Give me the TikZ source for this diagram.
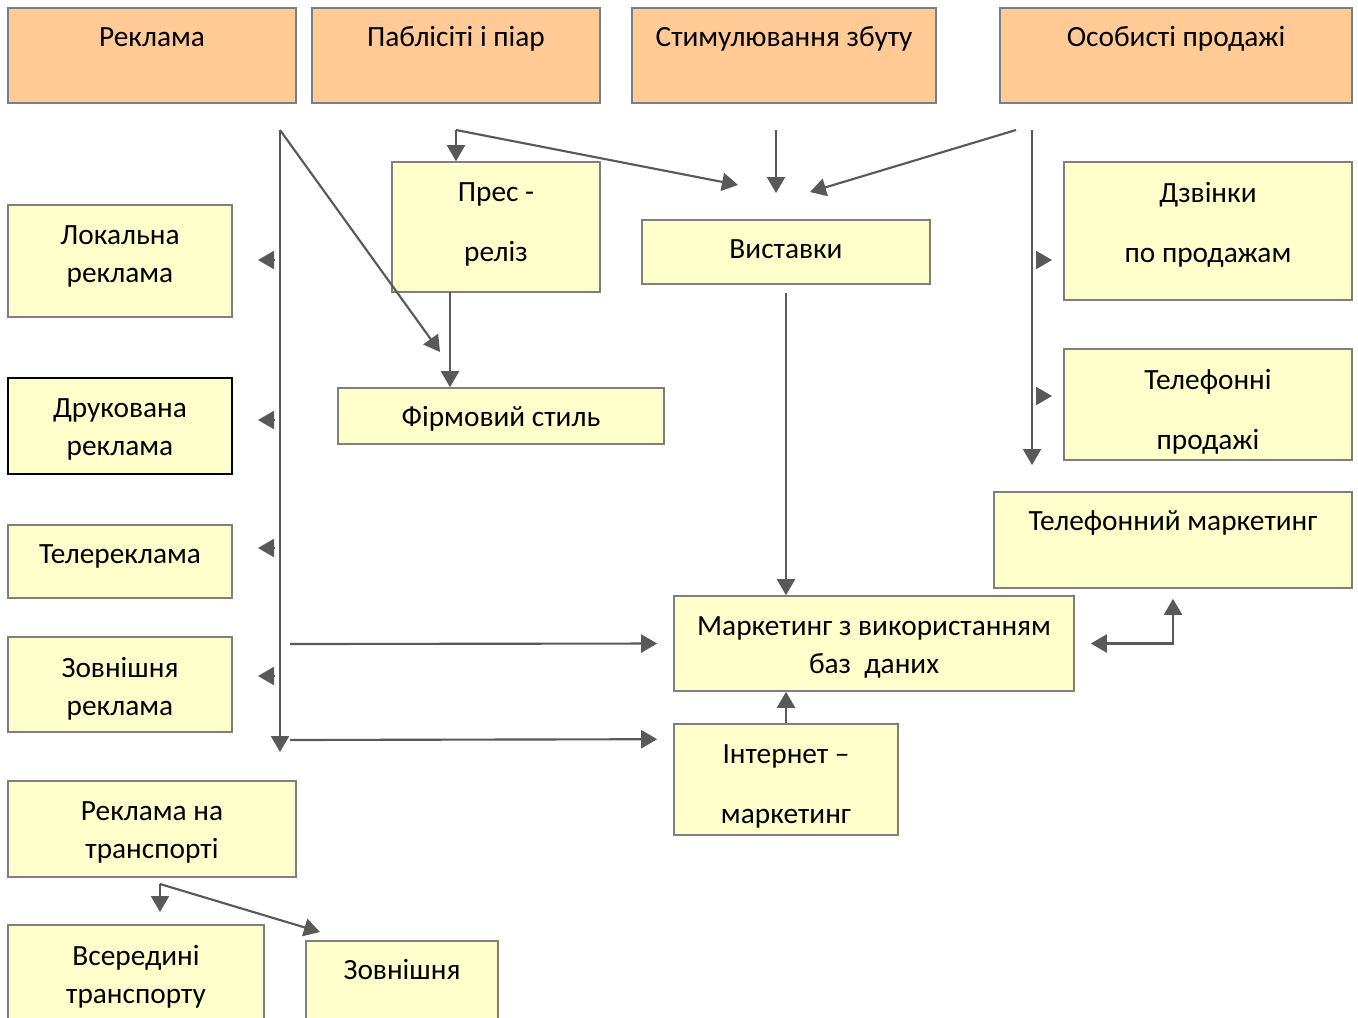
\documentclass[tikz,border=0pt]{standalone}
\usepackage{fontspec}
\setmainfont{Carlito}
\usetikzlibrary{arrows.meta,fit,calc}
\definecolor{peach}{HTML}{FFCA95}
\definecolor{pale}{HTML}{FFFFCC}
\definecolor{rim}{HTML}{7F7F7F}
\definecolor{ink}{HTML}{595959}
\tikzset{box/.style={draw=rim,line width=1.2pt,fill=#1,inner sep=0pt},box/.default=pale}
\tikzset{txt/.style={anchor=north,inner sep=0pt,align=center,
	font=\fontsize{22}{#1}\selectfont,execute at begin node={\rule{0pt}{22.5pt}}},txt/.default=28.5}
\tikzset{arr/.style={draw=ink,line width=1.6pt,-{Triangle[length=12pt,width=13.5pt]}}}
\tikzset{arrboth/.style={draw=ink,line width=1.6pt,{Triangle[length=12pt,width=13.5pt]}-{Triangle[length=12pt,width=13.5pt]}}}

\begin{document}
\begin{tikzpicture}[x=0.75pt,y=-0.75pt]
	\clip (0,0) rectangle (1358,1017);
	\fill[white] (0,0) rectangle (1358,1017);

	% Верхній ряд
	\node[box=peach, fit={(8,8) (296,103)}] (reklama) {};
	\node[box=peach, fit={(312,8) (600,103)}] (pablisyty) {};
	\node[box=peach, fit={(632,8) (936,103)}] (stymul) {};
	\node[box=peach, fit={(1000,8) (1352,103)}] (osobysti) {};
	\node[txt] (reklama-t) at ([yshift=-6.4pt]reklama.north) {Реклама};
	\node[txt] (pablisyty-t) at ([yshift=-6.4pt]pablisyty.north) {Паблісіті і піар};
	\node[txt] (stymul-t) at ([yshift=-6.4pt]stymul.north) {Стимулювання збуту};
	\node[txt] (osobysti-t) at ([yshift=-6.4pt]osobysti.north) {Особисті продажі};

	% Види реклами
	\node[box, fit={(8,205) (232,317)}] (lokalna) {};
	\node[box, draw=black, fit={(8,378) (232,474)}] (drukovana) {};
	\node[box, fit={(8,525) (232,598)}] (telerekl) {};
	\node[box, fit={(8,637) (232,732)}] (zovnishnia) {};
	\node[box, fit={(8,781) (296,877)}] (transport) {};
	\node[box, fit={(8,925) (264,1040)}] (vseredyni) {};
	\node[box, fit={(306,941) (498,1040)}] (zzovni) {};
	\node[txt] (lokalna-t) at ([yshift=-16pt]lokalna.north) {Локальна\\реклама};
	\node[txt] (drukovana-t) at ([yshift=-16pt]drukovana.north) {Друкована\\реклама};
	\node[txt] (telerekl-t) at ([yshift=-6.4pt]telerekl.north) {Телереклама};
	\node[txt] (zovnishnia-t) at ([yshift=-16pt]zovnishnia.north) {Зовнішня\\реклама};
	\node[txt] (transport-t) at ([yshift=-16pt]transport.north) {Реклама на\\транспорті};
	\node[txt] (vseredyni-t) at ([yshift=-16pt]vseredyni.north) {Всередині\\транспорту};
	\node[txt] (zzovni-t) at ([yshift=-6.4pt]zzovni.north) {Зовнішня};

	% Паблісіті та стимулювання
	\node[box, fit={(392,162) (600,292)}] (presliz) {};
	\node[box, fit={(338,388) (664,444)}] (firmovyi) {};
	\node[box, fit={(642,220) (930,284)}] (vystavky) {};
	\node[txt=45] (presliz-t) at ([yshift=-16pt]presliz.north) {Прес -\\реліз};
	\node[txt] (firmovyi-t) at ([yshift=-6.4pt]firmovyi.north) {Фірмовий стиль};
	\node[txt] (vystavky-t) at ([yshift=-6.4pt]vystavky.north) {Виставки};

	% Особисті продажі
	\node[box, fit={(1064,162) (1352,300)}] (dzvinky) {};
	\node[box, fit={(1064,349) (1352,460)}] (telprod) {};
	\node[box, fit={(994,492) (1352,588)}] (telmark) {};
	\node[box, fit={(674,596) (1074,691)}] (bazy) {};
	\node[box, fit={(674,724) (898,835)}] (internet) {};
	\node[txt=45] (dzvinky-t) at ([yshift=-16pt]dzvinky.north) {Дзвінки\\по продажам};
	\node[txt=45] (telprod-t) at ([yshift=-16pt]telprod.north) {Телефонні\\продажі};
	\node[txt] (telmark-t) at ([yshift=-6.4pt]telmark.north) {Телефонний маркетинг};
	\node[txt] (bazy-t) at ([yshift=-16pt]bazy.north) {Маркетинг з використанням\\баз~ даних};
	\node[txt=45] (internet-t) at ([yshift=-16pt]internet.north) {Інтернет –\\маркетинг};

	% Точки розгалуження
	\coordinate (rekl-hub) at (280,130);
	\coordinate (rekl-end) at (280,752);
	\coordinate (pab-hub) at (456,130);
	\coordinate (stym-hub) at (776,130);
	\coordinate (osob-hub) at (1016,130);
	\coordinate (osob-spine) at (1032,130);
	\coordinate (osob-end) at (1032,465);
	\coordinate (vyst-in) at (776,193);
	\coordinate (pres-out) at (450,292);
	\coordinate (tr-hub) at (160,884);

	% Реклама
	\draw[arr] (rekl-hub) -- (rekl-end);
	\draw[arr] (rekl-hub) -- (440,352);
	\foreach \yy in {260,420,548,676}
		\draw[arr] (275,\yy) -- (258,\yy);
	\draw[arr, shorten >=12pt] (290,644) -- (bazy.west);
	\draw[arr] (290,740) -- ($(internet.north west)+(-16,16)$);

	% Паблісіті і стимулювання
	\draw[arr] (pab-hub) -- (pab-hub |- presliz.north);
	\draw[arr] (pab-hub) -- ($(vyst-in)+(-38,-8)$);
	\draw[arr] (stym-hub) -- (vyst-in);
	\draw[arr] (osob-hub) -- ($(vyst-in)+(34,-1)$);
	\draw[arr] (pres-out) -- (pres-out |- firmovyi.north);
	\draw[arr] ([yshift=-6pt]vystavky.south) -- (bazy.north -| vystavky.south);
	\draw[arr] (internet.north) -- (internet.north |- bazy.south);

	% Особисті продажі
	\draw[arr] (osob-spine) -- (osob-end);
	\draw[arr] (1036,260) -- (1052,260);
	\draw[arr] (1036,396) -- (1052,396);
	\draw[arrboth, shorten <=12pt, shorten >=7.5pt] (bazy.east) -| (telmark.south);

	% Транспорт
	\draw[arr] (tr-hub) -- (160,912);
	\draw[arr] (tr-hub) -- (320,932);
\end{tikzpicture}
\end{document}
